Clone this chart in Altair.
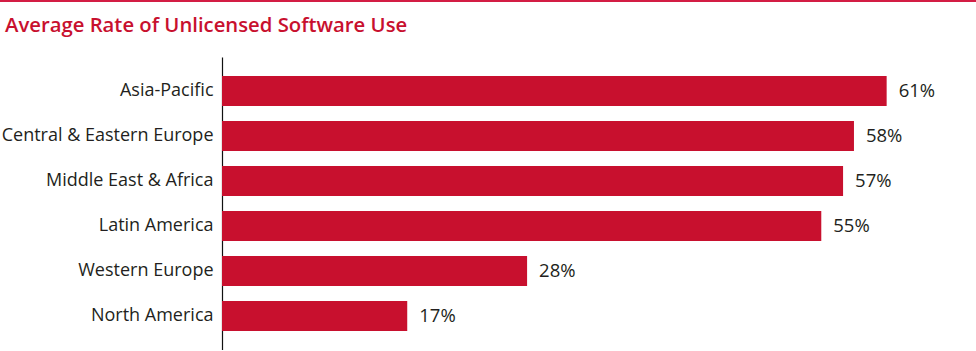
import altair as alt
import pandas as pd

regions = ["Asia-Pacific", "Central & Eastern Europe", "Middle East & Africa",
           "Latin America", "Western Europe", "North America"]
rates = [61, 58, 57, 55, 28, 17]
title_text = "Average Rate of Unlicensed Software Use"

df = pd.DataFrame({"region": regions, "rate": rates})
df["label"] = [f"{v}%" for v in rates]

RED = "#c8102e"
FONT = "Open Sans"

y_enc = alt.Y("region:N", sort=regions,
              scale=alt.Scale(paddingInner=1/3, paddingOuter=0.42),
              axis=alt.Axis(title=None, ticks=False, grid=False, domain=True,
                            domainColor="#111111", domainWidth=1.2,
                            labelFont=FONT, labelFontSize=18, labelColor="#231f20",
                            labelPadding=9, labelLimit=300))
x_enc = alt.X("rate:Q", scale=alt.Scale(domain=[0, 69.2], nice=False, zero=True),
              axis=None)

bars = alt.Chart(df).mark_bar(color=RED).encode(y=y_enc, x=x_enc)
labels = alt.Chart(df).mark_text(align="left", baseline="middle", dx=12,
                                 font=FONT, fontSize=18.5, color="#231f20").encode(
    y=alt.Y("region:N", sort=regions), x="rate:Q", text="label:N")

topline = alt.Chart(df).mark_rule(color="#d31d44", strokeWidth=2, clip=False).encode(
    x=alt.value(-222), x2=alt.value(760), y=alt.value(-56))

chart = alt.layer(topline, bars, labels).properties(
    width=754, height=293,
    autosize=alt.AutoSizeParams(type="none"),
    padding={"left": 222, "top": 57, "right": 0, "bottom": 0},
    title=alt.TitleParams(title_text, anchor="start", frame="group", dx=-217,
                          offset=0, dy=52, baseline="alphabetic", font=FONT,
                          fontSize=20.3, fontWeight=600, color=RED),
).configure_view(stroke=None)

chart.save("out.html", embed_options={"renderer": "svg", "actions": False})
